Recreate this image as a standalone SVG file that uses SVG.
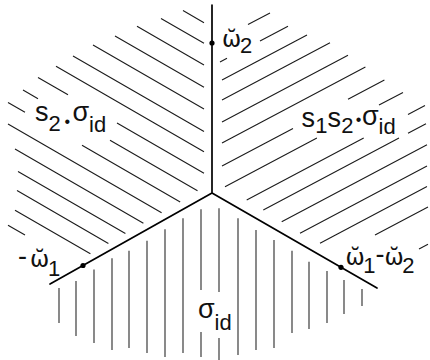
<svg xmlns="http://www.w3.org/2000/svg" width="430" height="360" viewBox="0 0 430 360">
<style>
.h{fill:none;stroke:#1c1c1c;stroke-width:1.1;stroke-linecap:butt}
.v{fill:none;stroke:#2a2a2a;stroke-width:1.1}
.wall{fill:none;stroke:#000;stroke-width:1.7;stroke-linecap:round}
.pt{fill:#000}
.lbl{font-family:"Liberation Sans",Arial,sans-serif;font-size:27px;fill:#111}
.sub{font-size:22px}
.dot{font-size:16px}
.om{font-family:"DejaVu Sans",sans-serif;font-size:23px}
</style>
<rect width="430" height="360" fill="#fff"/>
<g id="hatch-upper-left">
<path class="h" d="M183 10.6L204 22.7M161 18.5L204 43.3M137 26.3L204 65M115 35.9L204 87.3M93 44.9L204 109M73 56L204 131.6M56 66.3L204 151.7M38 77.5L68 94.8M117 123.1L204 173.3M23 90.1L38 98.7M110 140.3L197.5 190.8M8 102.4L25 112.2M82 145.2L180.2 201.9M8 123.9L161.6 212.7M15 149L143.4 223.2M18 171.5L125.4 233.5M17 190.5L108.4 243.4M15 210.2L90.4 253.7M8 225.2L25 235"/>
</g>
<g id="hatch-upper-right">
<path class="h" d="M248 24.5L270 13M220 62L227 58.3M260 41L288 26.2M222 80L307 35M222 100L330 42.8M222 122L348 55.2M222 143L365.4 67M222 166L293 128.4M348 99.2L384.4 79.9M225 186.7L316.9 138M379 105L403 92.4M246.7 200L363.7 138M408 114.5L425 105.5M263.3 210L399 138M408 133.3L426 123.8M281.7 221.7L427 144.7M300 233.3L427 166M320 243.3L427 186.6M375 235L428 206.9M419 249L428 244.2"/>
</g>
<g id="hatch-lower">
<path class="v" d="M59 288V323M76 281V336M94 269.5V343M112 258.3V350M129 250.7V348M147 240.7V353M165 229.3V357M183 218.3V353M201 209.3V290M201 332V357M219 208.3V292M219 338V360M238 218.3V355M256 230V350M274 240V348M292 250.7V333M309 261.7V329M327 271V323M344 280V314M362 289V306"/>
</g>
<g id="connectors">
<path class="wall" d="M212 5L212 193M212 193L50 284M212 193L377 288"/>
</g>
<g id="node-omega2">
<circle class="pt" cx="212" cy="43" r="2.6"/>
<text class="lbl"><tspan class="om" x="222" y="47">ω̆</tspan><tspan class="sub" x="240" y="53">2</tspan></text>
</g>
<g id="node-minus-omega1">
<circle class="pt" cx="83" cy="265.5" r="2.6"/>
<text class="lbl"><tspan x="18" y="265">-</tspan><tspan class="om" x="30" y="267">ω̆</tspan><tspan class="sub" x="48" y="276">1</tspan></text>
</g>
<g id="node-omega1-omega2">
<circle class="pt" cx="341" cy="267.3" r="2.6"/>
<text class="lbl"><tspan class="om" x="345.5" y="265">ω̆</tspan><tspan class="sub" x="363.2" y="273">1</tspan><tspan x="375.5" y="263">-</tspan><tspan class="om" x="384.6" y="265">ω̆</tspan><tspan class="sub" x="402.3" y="273">2</tspan></text>
</g>
<g id="region-s2">
<text class="lbl"><tspan x="35" y="121">s</tspan><tspan class="sub" x="48.6" y="131">2</tspan><tspan class="dot" x="64.5" y="127">•</tspan><tspan x="72.5" y="121">σ</tspan><tspan class="sub" x="89" y="132">id</tspan></text>
</g>
<g id="region-s1s2">
<text class="lbl"><tspan x="301.5" y="127">s</tspan><tspan class="sub" x="315.2" y="133">1</tspan><tspan x="327.6" y="127">s</tspan><tspan class="sub" x="341.3" y="133">2</tspan><tspan class="dot" x="355.8" y="125">•</tspan><tspan x="362" y="125">σ</tspan><tspan class="sub" x="378.5" y="134">id</tspan></text>
</g>
<g id="region-id">
<text class="lbl"><tspan x="198" y="318">σ</tspan><tspan class="sub" x="214.5" y="330">id</tspan></text>
</g>
</svg>
